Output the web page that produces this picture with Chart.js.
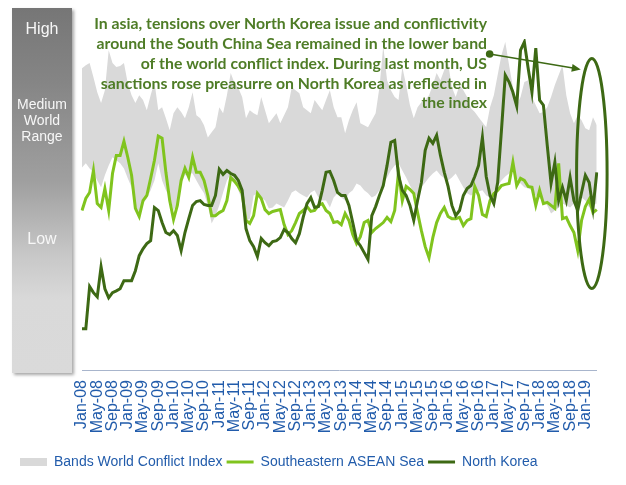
<!DOCTYPE html>
<html>
<head>
<meta charset="utf-8">
<script src="https://cdn.jsdelivr.net/npm/chart.js@4.4.1/dist/chart.umd.min.js"></script>
<style>
  html, body { margin: 0; padding: 0; background: #fff; }
  #wrap { position: relative; width: 626px; height: 485px; }
  #rangeBar {
    position: absolute; left: 12px; top: 8px; width: 60px; height: 365px;
    background: linear-gradient(#767676 0%, #858585 20%, #a0a0a0 48%, #c8c8c8 68%, #d9d9d9 80%, #dadada 100%);
    box-shadow: 2px 2px 3px rgba(0,0,0,0.35);
    font-family: "Liberation Sans", Arial, sans-serif; color: #f7f7f7;
  }
  #rangeBar div { position: absolute; left: 0; width: 60px; text-align: center; }
</style>
</head>
<body>
<div id="wrap">
  <canvas id="chart" width="626" height="485"></canvas>
  <div id="rangeBar">
    <div style="top:12px;font-size:16px;">High</div>
    <div style="top:88px;font-size:14px;line-height:16px;">Medium<br>World<br>Range</div>
    <div style="top:222px;font-size:16px;">Low</div>
  </div>
</div>
<script>
// monthly readings, Jan-08 .. Apr-19
const monthNames = ["Jan","Feb","Mar","Apr","May","Jun","Jul","Aug","Sep","Oct","Nov","Dec"];
const labels = [];
for (let yr = 8; yr <= 19; yr++) {
  for (let m = 0; m < 12; m++) {
    if (labels.length < 136) labels.push(monthNames[m] + "-" + String(yr).padStart(2, "0"));
  }
}

const bandHigh = [
  100.3,101.3,102,97.3,92.3,88.7,93,106.3,102,100.7,
  101,102,95.3,91.3,88.7,91.3,89.7,86.3,91.3,95.7,
  86.3,87.3,83.7,79.7,85.3,87.3,85.7,83.7,87.3,92.3,
  84.7,83.7,81.3,77.3,79,80.7,87.3,85.3,91.3,98.7,
  95.3,93.7,90.7,83.7,86.3,85.3,84.7,90.7,86.3,82,
  83.7,85.3,82,84.7,87.3,94,93,92,87.3,86.3,
  85.3,89.7,88,86.3,89.7,93,87.3,84,84,78.7,
  83,86.3,89,82,81.3,80.7,83,85.3,94,107.7,
  96.3,93,90.7,89.7,100.7,94.7,88,83.7,87.3,89,
  89.7,91.3,94.7,98.7,96.3,99.7,102,94,90.7,94.7,
  93,90.7,87,85.7,84,82.3,80.7,87.3,91.3,98,
  104.7,109,101.3,94,88,90.7,95.7,96.3,90.7,88,
  85.3,85.7,87.3,90.7,94.7,98,101.3,91.3,85.3,82,
  84.7,83,80.3,79.7,84,81.3
];

const bandLow = [
  67.3,68.7,67,65.7,63,60.7,64.7,68,70.7,69.7,
  68.7,67,63.7,60.7,53,51.3,55.3,57,59.7,63,
  68.7,63,59.7,57.3,53,55.3,62,64.7,65.3,65.3,
  63,60.7,58.7,54.7,48.7,51.3,54.7,59,63,65.3,
  63,59.7,56.3,49.7,50.3,58,58.7,57.3,56.3,53.7,
  54,55.3,54.7,54,56.3,59,59.7,58.7,58,57.3,
  59,59.7,57.3,56.3,56.3,54,57.3,58.7,57.3,56.3,
  58.7,59.7,62,61.3,59.7,58.7,57.3,58,59.7,62,
  64,66.3,68,68.7,66.3,64,61.3,59,57.3,60.7,
  62.3,64,65.3,66.3,64.7,63.7,63,64,65.3,63,
  60.7,58.7,58,58.7,59.3,59.7,58,57.3,59.7,61,
  63,64.3,65.3,66.3,63.7,62,60.7,60.3,59.7,58,
  57,56.3,54.7,52,53,54,55.3,54.7,54,55.3,
  56.3,57.3,56.3,54,54.7,55.3
];

const aseanSea = [
  53,57,59,66.3,55.3,54,60.3,53,65.3,71.3,
  71.3,76,70.7,64.7,53.7,51,56.3,58,63.7,69.7,
  77.7,77,65.7,56.3,50,54.7,63,67,64,70.7,
  65.7,65.7,63,58,51.3,51.3,52.3,53,56.3,64,
  62.7,61,58.7,49.7,48.7,51.3,58.7,57,53.3,52,
  52.7,53,53.3,48.3,45,46.3,49,52,53,54.3,
  52.7,53,54.7,55.3,53,52,49,49.3,48.3,52,
  49.7,45,42,44.3,49,49.7,45.7,47,48,49,
  50.7,49.3,53,65.7,56.3,61,60,58.7,52.3,46.3,
  41,37.3,44,49,52,54,51,50.3,50.3,50.7,
  48,49.7,50.3,61,58,51.7,51,56.3,58.7,59.7,
  61.3,61.7,62,69,61.3,63.7,63,61,60.7,54.7,
  59.7,55.3,55.7,54.7,53.7,68.7,50.3,50.7,48,45.7,
  39.7,49.7,54.3,56.7,52.3,53.3
];

const northKorea = [
  13.7,13.7,27.7,25.7,24.3,34.3,27,24,25.7,26.3,
  27,29.7,29.7,29.7,33,38,40.3,42,43,54,
  53,49,45.7,45,46.3,44.7,39.7,45.7,50.3,54.7,
  56,56.3,55,54.7,54.7,58,66.7,65,66.3,65.3,
  64.7,63,59.7,47,43,41,37.7,43.7,42.3,41.3,
  42.7,43,44,46.7,45.7,43.7,42.3,45.3,50.7,55.3,
  57.3,54,54.3,59.7,65.7,66,63,59,58,58,
  54.7,49,43,41.3,39,36.7,51.3,54.3,58,61.3,
  68,75.7,76.3,64.7,59.7,58,54.7,49.7,56.3,62.3,
  73,77,75.3,78,71.3,65.7,61,54.7,51.3,53,
  58,60.3,61.3,64.3,68,77.3,64.3,58,55.3,62.3,
  79.7,98,95.7,92.3,87.7,106.3,109,100.3,92.3,107,
  89.7,88,74.7,62,69,56.3,60.7,56.3,64,56.3,
  53,59,64.7,62.3,53.7,65.7
];

const noteLines = [
  "In asia, tensions over North Korea issue and conflictivity",
  "around the South China Sea remained in the lower band",
  "of the world conflict index. During last month, US",
  "sanctions rose preasurre on North Korea as reflected in",
  "the index"
];

const DARK = "#3d6914";
const LIGHT = "#80c41e";
const BLUE = "#225cab";

// annotation: text, arrow and ellipse around the latest months
const notePlugin = {
  id: "note",
  afterDatasetsDraw(chart) {
    const { ctx, scales: { x, y } } = chart;
    ctx.save();
    ctx.fillStyle = "#4e7c26";
    ctx.font = "bold 15.8px Lato";
    ctx.textAlign = "right";
    ctx.textBaseline = "middle";
    noteLines.forEach((t, i) => ctx.fillText(t, 487, 24 + i * 19.8));

    // arrow
    const x0 = x.getPixelForValue(106.9), y0 = y.getPixelForValue(105);
    const x1 = x.getPixelForValue(130.8), y1 = y.getPixelForValue(99.9);
    ctx.strokeStyle = DARK;
    ctx.fillStyle = DARK;
    ctx.lineWidth = 1.5;
    ctx.beginPath();
    ctx.arc(x0, y0, 3.8, 0, Math.PI * 2);
    ctx.fill();
    const ang = Math.atan2(y1 - y0, x1 - x0);
    ctx.beginPath();
    ctx.moveTo(x0, y0);
    ctx.lineTo(x1 - 8 * Math.cos(ang), y1 - 8 * Math.sin(ang));
    ctx.stroke();
    ctx.beginPath();
    ctx.moveTo(x1, y1);
    ctx.lineTo(x1 - 9 * Math.cos(ang) + 4 * Math.sin(ang), y1 - 9 * Math.sin(ang) - 4 * Math.cos(ang));
    ctx.lineTo(x1 - 9 * Math.cos(ang) - 4 * Math.sin(ang), y1 - 9 * Math.sin(ang) + 4 * Math.cos(ang));
    ctx.closePath();
    ctx.fill();

    // ellipse
    const cx = x.getPixelForValue(133.7);
    const rx = x.getPixelForValue(137.7) - cx;
    const cy = y.getPixelForValue(65.3);
    const ry = cy - y.getPixelForValue(65.3 + 38.2);
    ctx.lineWidth = 3;
    ctx.beginPath();
    ctx.ellipse(cx, cy, rx, ry, 0, 0, Math.PI * 2);
    ctx.stroke();
    ctx.restore();
  }
};

new Chart(document.getElementById("chart"), {
  type: "line",
  data: {
    labels: labels,
    datasets: [
      { label: "low", data: bandLow, borderWidth: 0, borderColor: "rgba(0,0,0,0)", pointRadius: 0, fill: false, order: 4 },
      { label: "Bands World Conflict Index", data: bandHigh, borderWidth: 0, borderColor: "rgba(0,0,0,0)",
        backgroundColor: "#d9d9d9", pointRadius: 0, fill: 0, order: 3 },
      { label: "Southeastern ASEAN Sea", data: aseanSea, borderColor: LIGHT, borderWidth: 3, pointRadius: 0, fill: false, order: 2 },
      { label: "North Korea", data: northKorea, borderColor: DARK, borderWidth: 3, pointRadius: 0, fill: false, order: 1 }
    ]
  },
  options: {
    responsive: false,
    animation: false,
    layout: { padding: { left: 16, right: 20, top: 39, bottom: 6 } },
    scales: {
      x: {
        offset: false,
        grid: { display: false, drawTicks: false },
        border: { color: "#a8b5cc", width: 1 },
        ticks: {
          autoSkip: false, minRotation: 90, maxRotation: 90, padding: 10,
          color: BLUE, font: { family: "Liberation Sans", size: 16 },
          callback: (v, i) => (i % 4 === 0 ? labels[i] : "")
        },
        afterFit: s => { s.height = 81; }
      },
      y: {
        min: 0, max: 110,
        ticks: { display: false },
        grid: { display: false },
        border: { display: false },
        afterFit: s => { s.width = 66; }
      }
    },
    plugins: {
      tooltip: { enabled: false },
      legend: {
        position: "bottom",
        align: "start",
        labels: {
          usePointStyle: true, pointStyleWidth: 27, boxHeight: 8, padding: 4,
          color: BLUE, font: { family: "Liberation Sans", size: 14 },
          generateLabels: () => [
            { text: "Bands World Conflict Index", pointStyle: "rect", fillStyle: "#d9d9d9", strokeStyle: "#d9d9d9", lineWidth: 0, fontColor: BLUE },
            { text: "Southeastern ASEAN Sea", pointStyle: "line", fillStyle: LIGHT, strokeStyle: LIGHT, lineWidth: 3, fontColor: BLUE },
            { text: "North Korea", pointStyle: "line", fillStyle: DARK, strokeStyle: DARK, lineWidth: 3, fontColor: BLUE }
          ]
        }
      }
    }
  },
  plugins: [notePlugin]
});
</script>
</body>
</html>
